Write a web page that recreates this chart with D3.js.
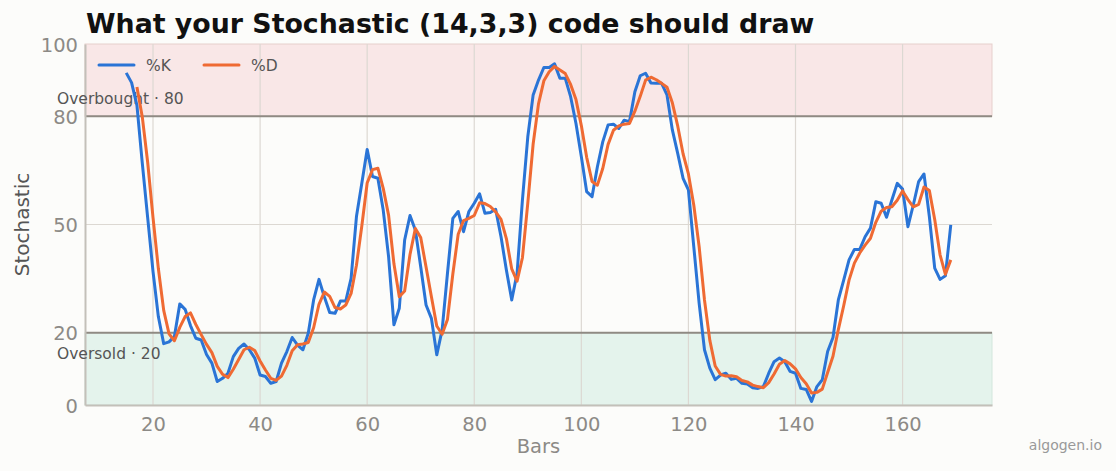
<!DOCTYPE html>
<html>
<head>
<meta charset="utf-8">
<script src="https://cdn.jsdelivr.net/npm/d3@7/dist/d3.min.js"></script>
<style>
  body { margin: 0; background: #fcfcfa; }
  svg { display: block; font-family: "DejaVu Sans", sans-serif; }
</style>
</head>
<body>
<div id="chart"></div>
<script>
// %K starts at bar 15, %D at bar 17
const kStart = 15;
const kValues = [
  92, 89.3, 83, 67, 52, 37, 24.5, 17, 17.5, 19,
  28, 26.5, 22, 18.5, 18, 14, 11.6, 6.5, 7.4, 8.8,
  13.4, 15.7, 16.9, 15.3, 13, 8.3, 7.9, 6, 6.5, 11.6,
  14.8, 18.7, 16.6, 15.3, 19.9, 29.1, 34.8, 30, 25.6, 25.4,
  28.8, 28.8, 35.1, 52.2, 61.4, 70.8, 63.3, 62.8, 54, 41.1,
  22.2, 26.8, 45.7, 52.5, 48.5, 38.3, 27.7, 24, 13.9, 20.8,
  36.5, 51.7, 53.6, 48, 53.6, 55.9, 58.5, 53.1, 53.3, 54.2,
  46.6, 37.4, 29.1, 36.5, 56.8, 74.3, 85.9, 90, 93.5, 93.5,
  94.5, 90.5, 90.5, 85.4, 78, 68.8, 59.1, 57.7, 66, 72.9,
  77.6, 77.8, 76.6, 78.9, 78.5, 86.8, 91.2, 91.9, 89.2, 89.1,
  89.1, 85.9, 76.2, 69.7, 62.8, 59.6, 43.9, 28.2, 15.3, 10.2,
  7, 8.3, 8.8, 7.1, 7.4, 6, 5.8, 4.8, 4.6, 5.1,
  8.8, 12, 13, 12, 9.3, 8.8, 4.6, 4.3, 1, 5.1,
  7, 14.8, 18.7, 29.1, 34.6, 40.2, 43.1, 43.1, 46.6, 49,
  56.3, 55.9, 52, 56.8, 61.4, 59.8, 49.4, 55.4, 61.9, 64,
  52.2, 37.9, 34.8, 35.8, 49.9
];

const dStart = 17;
const dValues = [
  88.1, 79.8, 67.3, 52, 37.8, 26.2, 19.7, 17.8, 21.5, 24.5,
  25.5, 22.3, 19.5, 16.8, 14.5, 10.7, 8.5, 7.6, 9.9, 12.6,
  15.3, 16, 15.1, 12.2, 9.7, 7.4, 6.8, 8, 11, 15,
  16.7, 16.9, 17.3, 21.4, 27.9, 31.3, 30.1, 27, 26.6, 27.7,
  30.9, 38.7, 49.6, 61.5, 65.2, 65.6, 60, 52.6, 39.1, 30,
  31.6, 41.7, 48.9, 46.4, 38.2, 30, 21.9, 19.6, 23.7, 36.3,
  47.3, 51.1, 51.7, 52.5, 56, 55.8, 55, 53.5, 51.4, 46.1,
  37.7, 34.3, 40.8, 55.9, 72.3, 83.4, 89.8, 92.3, 93.8, 92.8,
  91.8, 88.8, 84.6, 77.4, 68.6, 61.9, 60.9, 65.5, 72.2, 76.1,
  77.3, 77.8, 78, 81.4, 85.5, 90, 90.8, 90.1, 89.1, 88,
  83.7, 77.3, 69.6, 64, 55.4, 43.9, 29.1, 17.9, 10.8, 8.5,
  8, 8.1, 7.8, 6.8, 6.4, 5.5, 5.1, 4.8, 6.2, 8.6,
  11.3, 12.3, 11.4, 10, 7.6, 5.9, 3.3, 3.5, 4.4, 9,
  13.5, 20.9, 27.5, 34.6, 39.3, 42.1, 44.3, 46.2, 50.6, 53.7,
  54.7, 54.9, 56.7, 59.3, 56.9, 54.9, 55.6, 60.4, 59.4, 51.4,
  41.6, 36.2, 40.2
];

const xTicks = [20, 40, 60, 80, 100, 120, 140, 160];
const yTicks = [0, 20, 50, 80, 100];
const overbought = 80;
const oversold = 20;

const width = 1116, height = 471;
const margin = {left: 85, right: 124, top: 44, bottom: 66};

const svg = d3.select("#chart").append("svg")
  .attr("width", width)
  .attr("height", height);

svg.append("rect").attr("width", width).attr("height", height).attr("fill", "#fcfcfa");

const x = d3.scaleLinear()
  .domain([7.3, 176.7])
  .range([margin.left, width - margin.right]);

const y = d3.scaleLinear()
  .domain([0, 100])
  .range([height - margin.bottom, margin.top]);

// zones
svg.append("rect")
  .attr("x", x.range()[0]).attr("y", y(100))
  .attr("width", x.range()[1] - x.range()[0]).attr("height", y(overbought) - y(100))
  .attr("fill", "#f9e7e7").attr("stroke", "#e6cfcc").attr("stroke-width", 1);
svg.append("rect")
  .attr("x", x.range()[0]).attr("y", y(oversold))
  .attr("width", x.range()[1] - x.range()[0]).attr("height", y(0) - y(oversold))
  .attr("fill", "#e4f3ec").attr("stroke", "#d2e6dc").attr("stroke-width", 1);

// grid
const grid = svg.append("g");
grid.selectAll("line.v").data(xTicks).enter().append("line")
  .attr("x1", d => x(d)).attr("x2", d => x(d))
  .attr("y1", y(100)).attr("y2", y(0))
  .attr("stroke", "#dcd8d2").attr("stroke-width", 1.2);
grid.selectAll("line.h").data([50]).enter().append("line")
  .attr("x1", x.range()[0]).attr("x2", x.range()[1])
  .attr("y1", d => y(d)).attr("y2", d => y(d))
  .attr("stroke", "#dcd8d2").attr("stroke-width", 1.2);

// threshold lines
svg.selectAll("line.th").data([overbought, oversold]).enter().append("line")
  .attr("x1", x.range()[0]).attr("x2", x.range()[1])
  .attr("y1", d => y(d)).attr("y2", d => y(d))
  .attr("stroke", "#8f8a83").attr("stroke-width", 2);

// axes
const xAxis = svg.append("g")
  .attr("transform", `translate(0,${y(0)})`)
  .call(d3.axisBottom(x).tickValues(xTicks).tickSize(0).tickPadding(12));
const yAxis = svg.append("g")
  .attr("transform", `translate(${x.range()[0]},0)`)
  .call(d3.axisLeft(y).tickValues(yTicks).tickSize(0).tickPadding(7));
[xAxis, yAxis].forEach(a => {
  a.select(".domain").attr("stroke", "#c3c0b9").attr("stroke-width", 2);
  a.selectAll("text").attr("font-family", "DejaVu Sans, sans-serif")
    .attr("font-size", 19.5).attr("fill", "#8c8a86");
});
yAxis.selectAll("text").attr("dy", "0.36em");

// zone labels, nudged clear of the 80 / 20 tick labels
svg.append("text").attr("x", 57).attr("y", y(overbought) - 12)
  .attr("font-size", 15.5).attr("fill", "#555").text("Overbought · 80");
svg.append("text").attr("x", 57).attr("y", y(oversold) + 26)
  .attr("font-size", 15.5).attr("fill", "#555").text("Oversold · 20");

// lines
const kData = kValues.map((v, i) => [kStart + i, v]);
const dData = dValues.map((v, i) => [dStart + i, v]);
const line = d3.line().x(d => x(d[0])).y(d => y(d[1]));

svg.append("path").datum(kData).attr("d", line)
  .attr("fill", "none").attr("stroke", "#2a74d6").attr("stroke-width", 3)
  .attr("stroke-linejoin", "round");
svg.append("path").datum(dData).attr("d", line)
  .attr("fill", "none").attr("stroke", "#ef6a33").attr("stroke-width", 3)
  .attr("stroke-linejoin", "round");

// legend
const legend = svg.append("g");
const legendItems = [["%K", "#2a74d6", 99], ["%D", "#ef6a33", 204]];
legendItems.forEach(([name, color, lx]) => {
  legend.append("line").attr("x1", lx).attr("x2", lx + 35).attr("y1", 65).attr("y2", 65)
    .attr("stroke", color).attr("stroke-width", 3).attr("stroke-linecap", "round");
  legend.append("text").attr("x", lx + 47).attr("y", 71)
    .attr("font-size", 15.5).attr("fill", "#555").text(name);
});

// titles
svg.append("text").attr("x", 86).attr("y", 33)
  .attr("font-size", 26.8).attr("font-weight", "bold").attr("fill", "#111")
  .text("What your Stochastic (14,3,3) code should draw");
svg.append("text").attr("x", (x.range()[0] + x.range()[1]) / 2).attr("y", 453)
  .attr("text-anchor", "middle").attr("font-size", 19.5).attr("fill", "#8c8a86").text("Bars");
svg.append("text").attr("transform", `translate(29,${y(50)}) rotate(-90)`)
  .attr("text-anchor", "middle").attr("font-size", 20).attr("fill", "#555").text("Stochastic");
svg.append("text").attr("x", 1102).attr("y", 450).attr("text-anchor", "end")
  .attr("font-size", 14).attr("fill", "#999").text("algogen.io");
</script>
</body>
</html>
